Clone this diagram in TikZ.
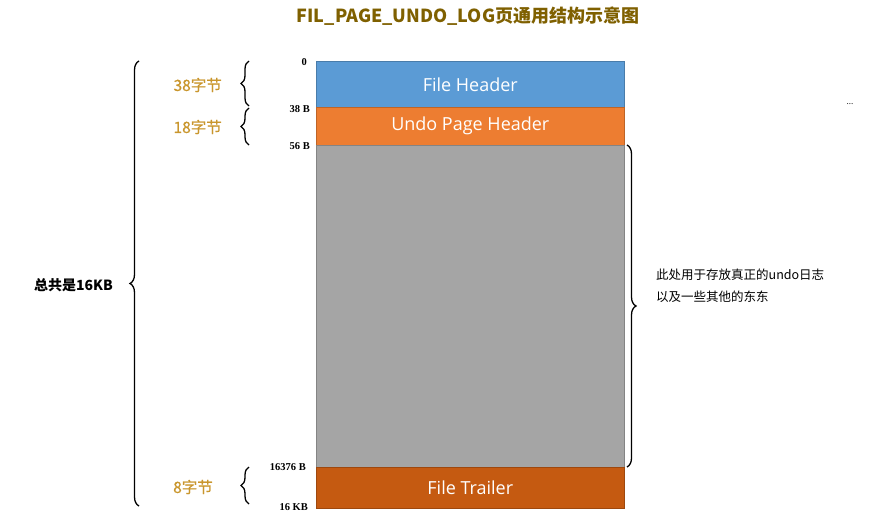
\documentclass[tikz,border=0pt]{standalone}
\usepackage{fontspec}
\setmainfont{Liberation Serif}
\newfontfamily\cjk{Noto Sans CJK SC}
\newfontfamily\cjkmid[FakeBold=0.8]{Noto Sans CJK SC}
\newfontfamily\boxfont{Open Sans}
\usetikzlibrary{decorations.pathreplacing}
\definecolor{hdrblue}{HTML}{5B9BD5}
\definecolor{hdrorange}{HTML}{ED7D31}
\definecolor{bodygray}{HTML}{A5A5A5}
\definecolor{trailer}{HTML}{C55A11}
\definecolor{sizegold}{HTML}{C9962D}
\definecolor{titlegold}{HTML}{7F6000}
\tikzset{
  seg/.style={draw=#1!80!black, line width=0.6pt, minimum width=308pt, anchor=north west,
    inner sep=0pt, font=\boxfont\fontsize{18}{21}\selectfont, text=white},
  offset/.style={anchor=east, inner sep=0pt, font=\bfseries\fontsize{10.5}{12}\selectfont},
  sizelbl/.style={anchor=east, inner sep=0pt, text=sizegold, font=\cjkmid\fontsize{15.5}{18}\selectfont},
  bracelink/.style={decorate, decoration={brace, amplitude=#1}, line width=1.3pt},
  note/.style={inner sep=0pt, font=\cjk\fontsize{12.5}{22}\selectfont}
}
\begin{document}
\begin{tikzpicture}[x=1pt, y=-1pt]
\useasboundingbox (0,0) rectangle (881,514);

% title
\node[text=titlegold, font=\cjk\bfseries\fontsize{18}{21}\selectfont] (title) at (468,16)
  {FIL\_PAGE\_UNDO\_LOG页通用结构示意图};

% page segments
\node[seg=hdrblue, fill=hdrblue, minimum height=46pt] (fh) at (316,61) {File Header};
\node[seg=hdrorange, fill=hdrorange, minimum height=38pt] (uph) at (316,107) {Undo Page Header};
\node[seg=bodygray, fill=bodygray, minimum height=322pt] (body) at (316,145) {};
\node[seg=trailer, fill=trailer, minimum height=41pt] (ft) at (316,467) {File Trailer};

% byte offsets
\node[offset] (o0) at (307,62) {0};
\node[offset] (o38) at (310,109) {38 B};
\node[offset] (o56) at (310,146) {56 B};
\node[offset] (o16376) at (306,467) {16376 B};
\node[offset] (o16k) at (308,507) {16 KB};

% small braces for segment sizes
\coordinate (b1t) at (249,61);
\coordinate (b1b) at (249,106);
\coordinate (b2t) at (249,108);
\coordinate (b2b) at (249,145);
\coordinate (b3t) at (249,467);
\coordinate (b3b) at (249,504);
\draw[bracelink=8pt] (b1b) -- (b1t);
\draw[bracelink=8pt] (b2b) -- (b2t);
\draw[bracelink=8pt] (b3b) -- (b3t);
\node[sizelbl] (s38) at (222,85) {38字节};
\node[sizelbl] (s18) at (222,127) {18字节};
\node[sizelbl] (s8) at (213,487) {8字节};

% whole page brace
\coordinate (bigt) at (139,61);
\coordinate (bigb) at (139,506);
\draw[bracelink=9pt] (bigb) -- (bigt);
\node[anchor=east, inner sep=0pt, font=\cjk\bfseries\fontsize{14}{16}\selectfont] (total) at (113,285) {总共是16KB};

% brace over the body
\coordinate (rbt) at (627,145);
\coordinate (rbb) at (627,467);
\draw[bracelink=9pt] (rbt) -- (rbb);
\node[note, anchor=west, align=left] (desc) at (656,286) {此处用于存放真正的undo日志\\以及一些其他的东东};

% ellipsis
\node[font=\fontsize{9}{10}\selectfont, inner sep=0pt] (dots) at (850,104) {...};
\end{tikzpicture}
\end{document}
